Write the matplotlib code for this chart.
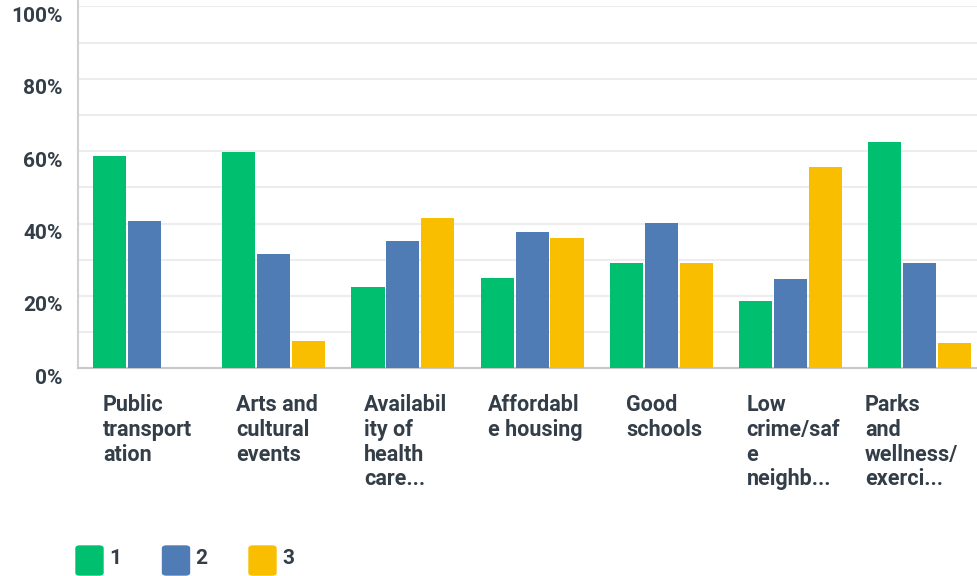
import numpy as np
import matplotlib.pyplot as plt
from matplotlib.patches import FancyBboxPatch

# data
categories = ['Public\ntransport\nation', 'Arts and\ncultural\nevents',
              'Availabil\nity of\nhealth\ncare...', 'Affordabl\ne housing',
              'Good\nschools', 'Low\ncrime/saf\ne\nneighb...',
              'Parks\nand\nwellness/\nexerci...']
series_names = ['1', '2', '3']
rank1 = [58.6, 59.8, 22.5, 24.9, 29.1, 18.6, 62.5]
rank2 = [40.7, 31.6, 35.2, 37.7, 40.2, 24.7, 29.1]
rank3 = [0.0, 7.5, 41.5, 36.0, 29.1, 55.6, 7.0]
yticks = [0, 20, 40, 60, 80, 100]
colors = ['#00bf6f', '#507cb6', '#f9be00']

txt = '#333e48'
plt.rcParams['font.family'] = ['Roboto', 'DejaVu Sans']

W, H = 977, 576
fig = plt.figure(figsize=(W / 100, H / 100), dpi=100)
ax = fig.add_axes([78 / W, (H - 368.3) / H, (W - 78) / W, 362 / H])

x = np.arange(len(categories))
bw = 0.256
offs = [-0.27, 0, 0.27]
for vals, c, o in zip([rank1, rank2, rank3], colors, offs):
    ax.bar(x + o, vals, bw, color=c, zorder=3)

ax.set_xlim(-0.515, 6.444)
ax.set_ylim(0, 100)
ax.set_yticks(np.arange(0, 101, 10))
ax.set_yticklabels([])
ax.tick_params(axis='y', length=0)
ax.grid(axis='y', color='#ededed', linewidth=1.5, zorder=0)
ax.set_xticks([])
for s in ['top', 'right']:
    ax.spines[s].set_visible(False)
ax.spines['left'].set_color('#d0d0d0')
ax.spines['left'].set_linewidth(1.5)
ax.spines['bottom'].set_color('#c8c8c8')
ax.spines['bottom'].set_linewidth(1.5)
ax.spines['left'].set_bounds(0, 103)

# y labels sit a bit below their gridline
for v in yticks:
    ax.annotate(f'{v}%', xy=(0, v), xycoords=('axes fraction', 'data'),
                xytext=(-15, -10), textcoords='offset pixels', ha='right',
                va='center', fontsize=15, fontweight='bold', color=txt,
                annotation_clip=False)

# category labels: block centred under group, lines left aligned
for i, cat in enumerate(categories):
    dx = 3 if i < len(categories) - 1 else -8
    ax.annotate(cat, xy=(i, 0), xycoords='data', xytext=(dx, -26),
                textcoords='offset pixels', ha='center', va='top',
                multialignment='left', fontsize=15.5, fontweight='bold',
                color=txt, linespacing=1.16, annotation_clip=False)

# legend
for k, (name, c) in enumerate(zip(series_names, colors)):
    x0 = 76 + k * 86.5
    box = FancyBboxPatch((x0 / W, (H - 575) / H), 27 / W, 29 / H,
                         boxstyle='round,pad=0,rounding_size=0.004',
                         transform=fig.transFigure, color=c)
    fig.patches.append(box)
    fig.text((x0 + 33) / W, (H - 559) / H, name, fontsize=15,
             fontweight='bold', color=txt, va='center', ha='left')

fig.savefig('out.png', dpi=100)
